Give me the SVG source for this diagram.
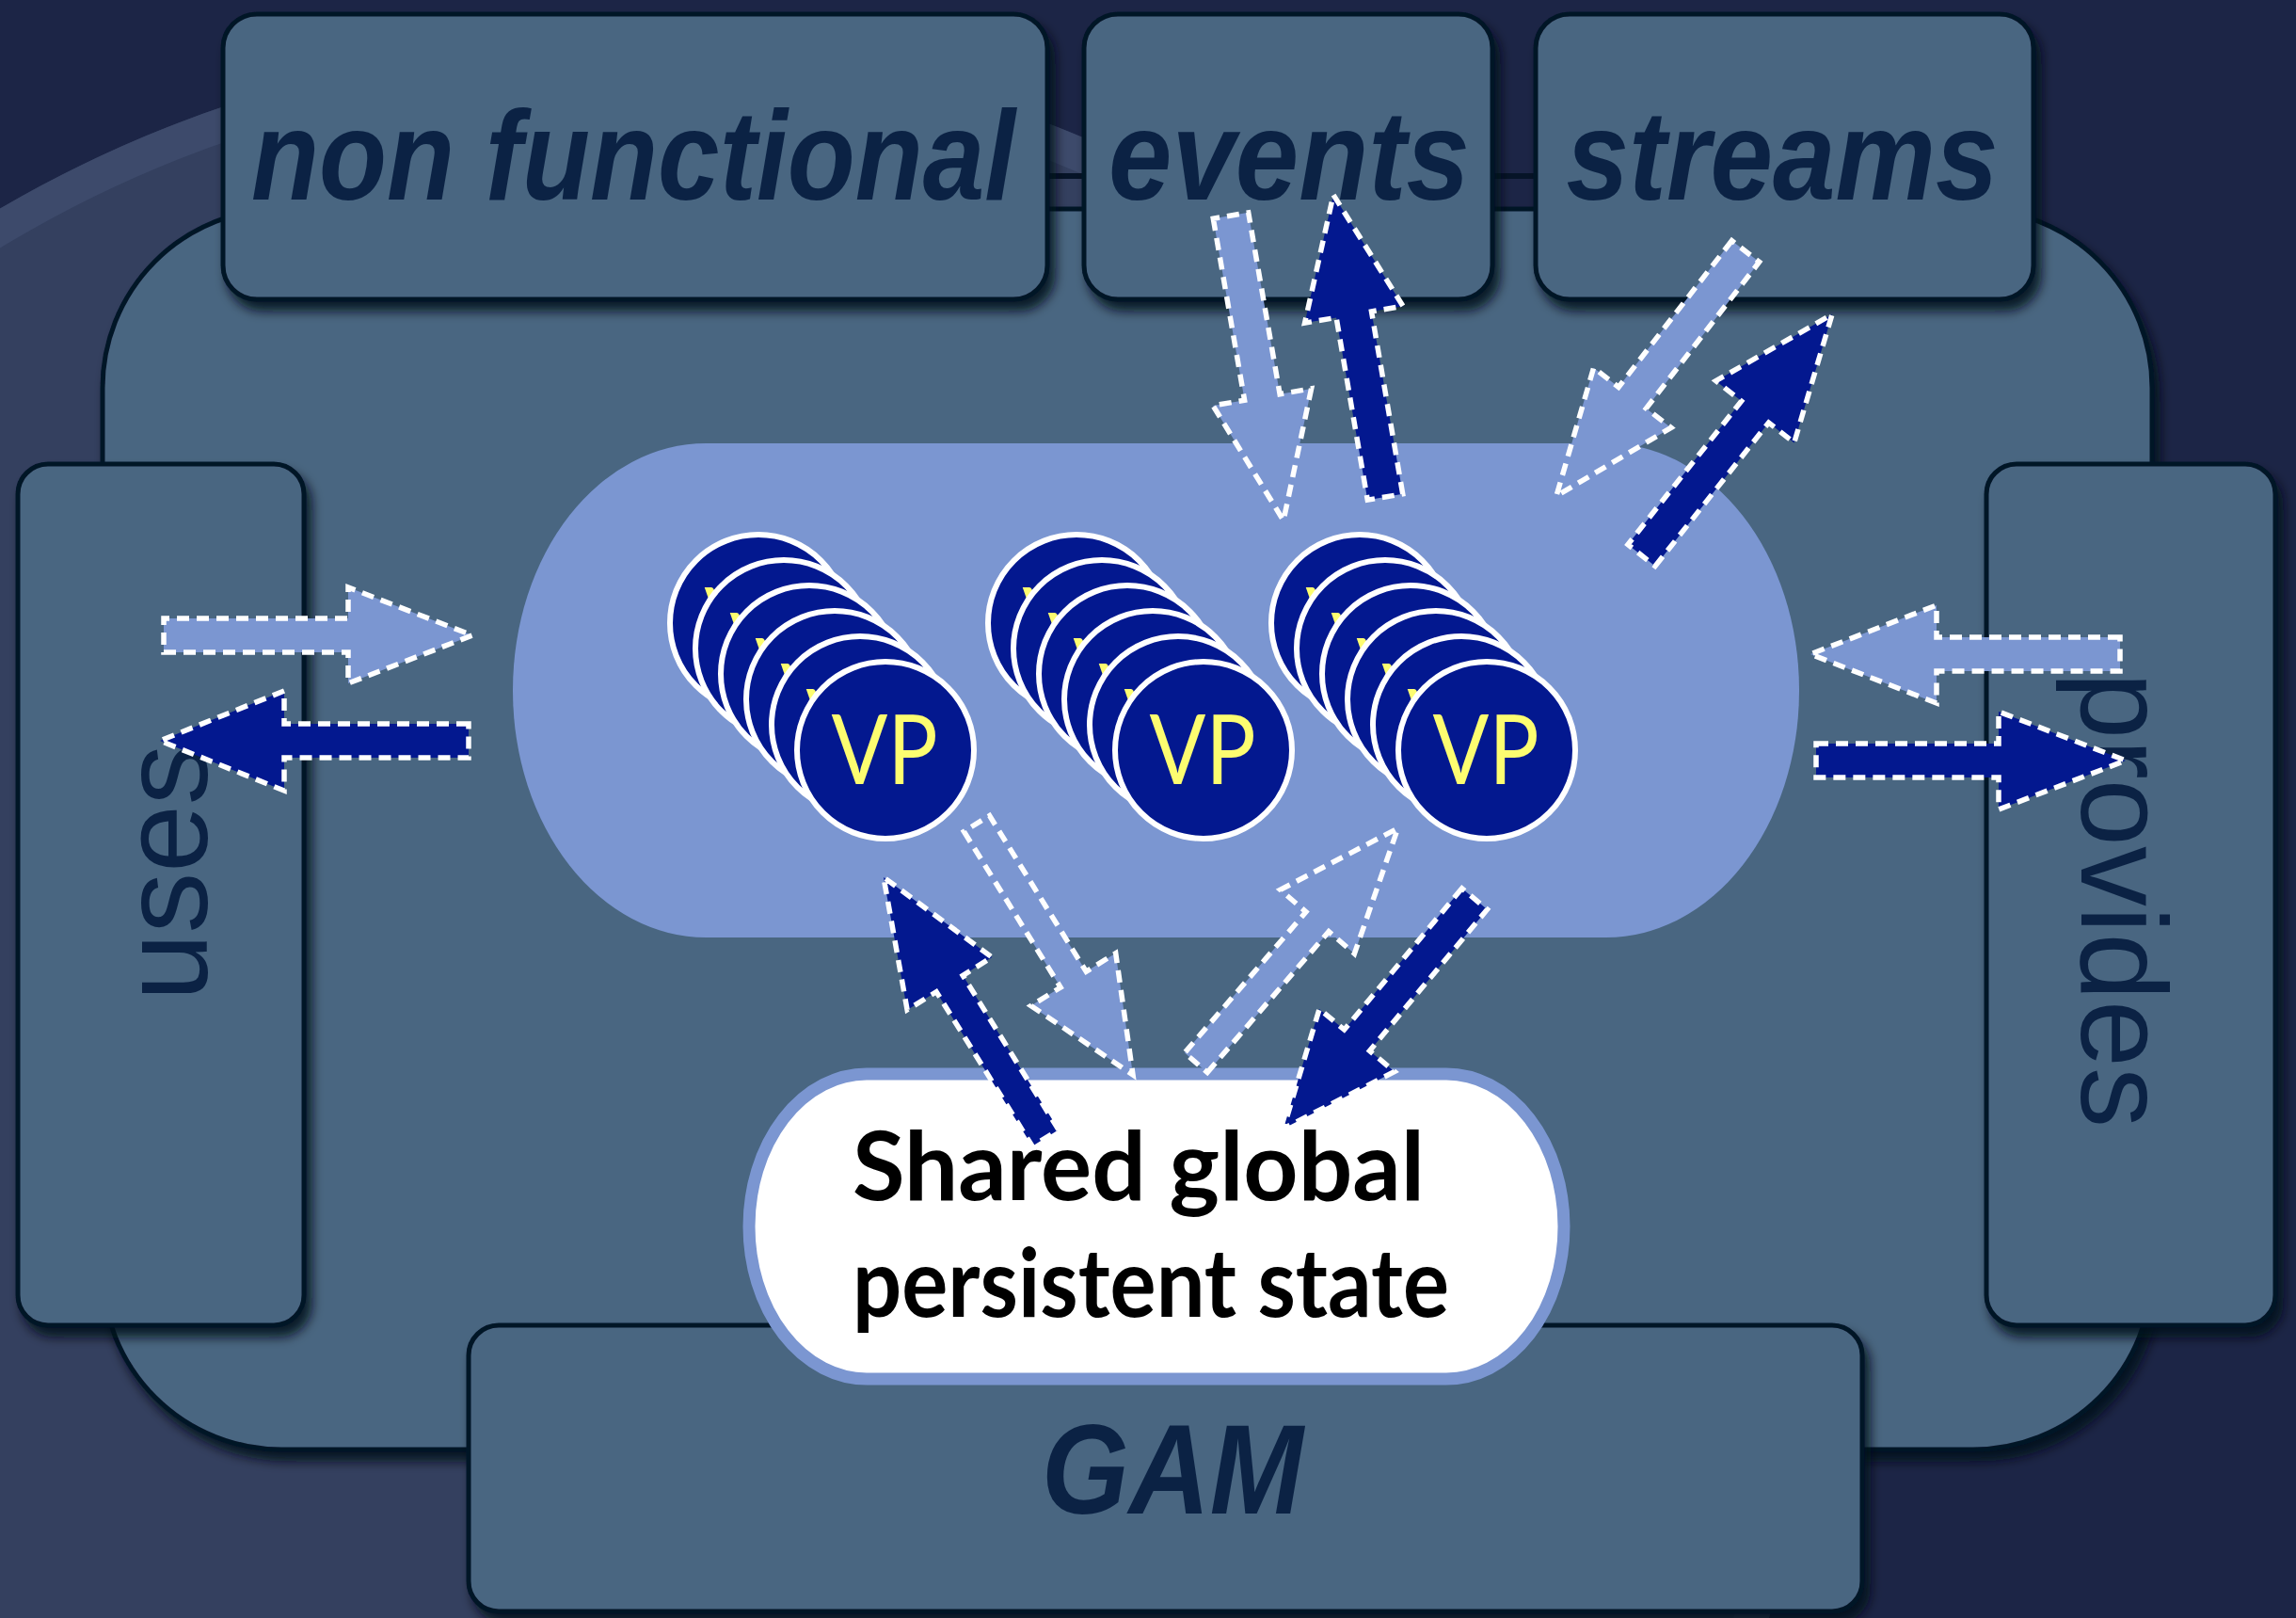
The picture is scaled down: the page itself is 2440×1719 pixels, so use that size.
<svg xmlns="http://www.w3.org/2000/svg" width="2440" height="1719" viewBox="0 0 2440 1719">
  <defs>
    <style>
      .box { fill: #4a6681; stroke: #061428; stroke-width: 5; }
      .lbl { font-family: "Liberation Sans", Arial, sans-serif; fill: #0b2244; }
      .top { font-weight: bold; font-style: italic; font-size: 136px; text-anchor: middle; }
      .side { font-size: 130px; text-anchor: middle; }
      .arr { stroke: #ffffff; stroke-width: 5.5; stroke-dasharray: 13 8; stroke-linejoin: miter; }
      .light { fill: #7b96d1; }
      .dark { fill: #03188f; }
      .vp-disc { fill: #03188f; stroke: #ffffff; stroke-width: 6; }
      .vp-txt { font-family: Lato, "Liberation Sans", sans-serif; font-size: 102px; fill: #fdfd70; text-anchor: middle; }
      .state-txt { font-family: Lato, "Liberation Sans", sans-serif; font-size: 102px; font-weight: bold; fill: #000000; }
    </style>
    <filter id="shadow" x="-10%" y="-10%" width="125%" height="130%">
      <feDropShadow dx="6" dy="10" stdDeviation="6" flood-color="#020818" flood-opacity="0.85"/>
    </filter>
    <!-- one virtual processor disc -->
    <g id="vp">
      <circle class="vp-disc" cx="0" cy="0" r="94"/>
      <text class="vp-txt" x="-1" y="36" textLength="113" lengthAdjust="spacingAndGlyphs">VP</text>
    </g>
    <!-- a stack of six discs, front disc at the origin -->
    <g id="vp-stack">
      <use href="#vp" x="-135" y="-135"/>
      <use href="#vp" x="-108" y="-108"/>
      <use href="#vp" x="-81" y="-81"/>
      <use href="#vp" x="-54" y="-54"/>
      <use href="#vp" x="-27" y="-27"/>
      <use href="#vp" x="0" y="0"/>
    </g>
  </defs>

  <!-- backdrop -->
  <rect x="0" y="0" width="2440" height="1719" fill="#1c2546"/>
  <circle cx="651" cy="1333" r="1288" fill="#34405f"/>
  <circle cx="651" cy="1333" r="1270" fill="none" stroke="#3d4a6b" stroke-width="36"/>

  <!-- outer component frame -->
  <g id="frame">
    <rect class="box" x="109" y="222" width="2178" height="1318" rx="190" ry="190" filter="url(#shadow)"/>
    <line x1="1100" y1="187" x2="1650" y2="187" stroke="#061428" stroke-width="6"/>
  </g>

  <g id="non-functional">
    <rect class="box" x="237" y="15" width="876" height="303" rx="36" filter="url(#shadow)"/>
    <text class="lbl top" x="673" y="212" textLength="812" lengthAdjust="spacingAndGlyphs">non functional</text>
  </g>
  <g id="events">
    <rect class="box" x="1152" y="15" width="434" height="303" rx="36" filter="url(#shadow)"/>
    <text class="lbl top" x="1370" y="212" textLength="384" lengthAdjust="spacingAndGlyphs">events</text>
  </g>
  <g id="streams">
    <rect class="box" x="1632" y="15" width="529" height="303" rx="36" filter="url(#shadow)"/>
    <text class="lbl top" x="1894" y="212" textLength="459" lengthAdjust="spacingAndGlyphs">streams</text>
  </g>
  <g id="uses">
    <rect class="box" x="19" y="493" width="304" height="915" rx="32" filter="url(#shadow)"/>
    <text class="lbl side" transform="translate(220,927) rotate(-90)" x="0" y="0" textLength="273" lengthAdjust="spacingAndGlyphs">uses</text>
  </g>
  <g id="provides">
    <rect class="box" x="2111" y="493" width="307" height="915" rx="32" filter="url(#shadow)"/>
    <text class="lbl side" transform="translate(2212,956) rotate(90)" x="0" y="0" textLength="484" lengthAdjust="spacingAndGlyphs">provides</text>
  </g>
  <g id="gam">
    <rect class="box" x="498" y="1408" width="1481" height="304" rx="32" filter="url(#shadow)"/>
    <text class="lbl top" x="1246" y="1608" font-size="132" textLength="278" lengthAdjust="spacingAndGlyphs">GAM</text>
  </g>

  <!-- pool holding the virtual processors -->
  <g id="vp-pool">
    <rect x="545" y="471" width="1367" height="525" rx="205" ry="262" fill="#7b96d1"/>
  </g>

  <g id="shared-state">
    <rect x="796" y="1141" width="866" height="324" rx="125" ry="162" fill="#ffffff" stroke="#7b96d1" stroke-width="13"/>
    <text class="state-txt" x="906" y="1275" textLength="608" lengthAdjust="spacingAndGlyphs">Shared global</text>
    <text class="state-txt" x="906" y="1399" textLength="634" lengthAdjust="spacingAndGlyphs">persistent state</text>
  </g>

  <g id="vp-stack-1"><use href="#vp-stack" x="941" y="797"/></g>
  <g id="vp-stack-2"><use href="#vp-stack" x="1279" y="797"/></g>
  <g id="vp-stack-3"><use href="#vp-stack" x="1580" y="797"/></g>

  <!-- dashed block arrows -->
  <g id="connectors">
    <polygon class="arr light" points="174,693 370,693 370,726 502,675 370,624 370,657 174,657"/>
    <polygon class="arr dark" points="498,769 302,769 302,734 170,787 302,840 302,805 498,805"/>
    <polygon class="arr light" points="2253,677 2058,677 2058,643 1924,695 2058,747 2058,713 2253,713"/>
    <polygon class="arr dark" points="1930,790 2124,790 2124,756 2259,808 2124,860 2124,826 1930,826"/>
    <polygon class="arr light" points="1289.3,232.2 1322.6,425.2 1289.1,431 1364,553 1393.6,412.9 1360.1,418.7 1326.7,225.8"/>
    <polygon class="arr dark" points="1490.7,524.8 1457.5,330.9 1491,325.2 1417,207 1386.6,343.1 1420.1,337.4 1453.3,531.2"/>
    <polygon class="arr light" points="1840.4,255.7 1720.1,411.3 1693.6,390.8 1654,527 1775.9,454.4 1749.4,433.9 1869.6,278.3"/>
    <polygon class="arr dark" points="1759,601.5 1879.6,449 1906.7,470.4 1947,334 1823.5,404.7 1850.6,426.1 1730,578.5"/>
    <polygon class="arr light" points="1024.4,883.4 1127.1,1049 1095.6,1068.5 1204,1142 1185.7,1012.7 1154.3,1032.2 1051.6,866.6"/>
    <polygon class="arr dark" points="1125,1200.3 1023.2,1036.3 1054.2,1017 939,932 964.1,1072.9 995.1,1053.7 1097,1217.7"/>
    <polygon class="arr light" points="1283.1,1139.4 1412.1,989.7 1439.4,1013.2 1485.5,880 1360.6,945.3 1387.9,968.8 1258.9,1118.6"/>
    <polygon class="arr dark" points="1553.6,943.8 1428.6,1094 1402.1,1072 1364,1199 1482,1138.5 1455.5,1116.4 1580.5,966.2"/>
  </g>
</svg>
